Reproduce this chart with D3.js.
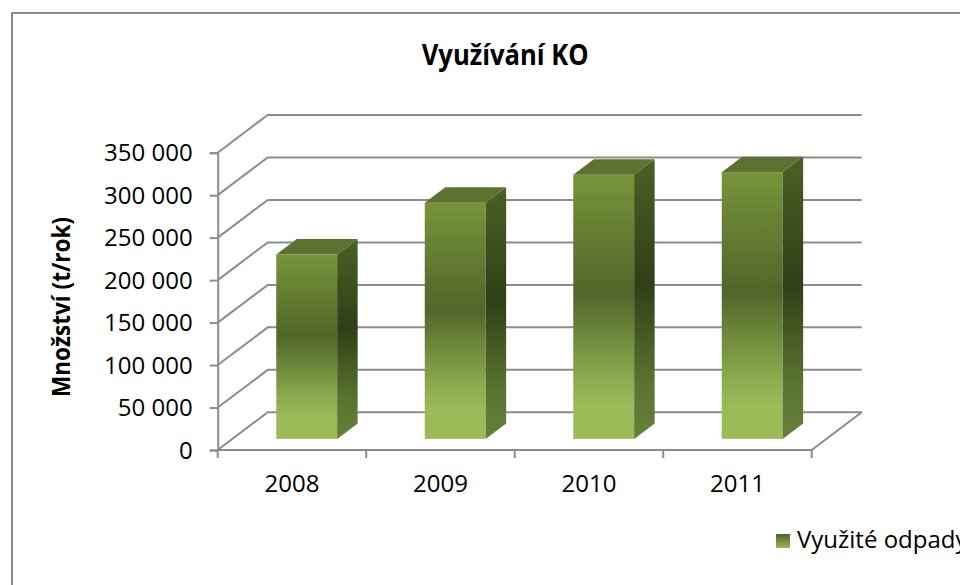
<!DOCTYPE html>
<html>
<head>
<meta charset="utf-8">
<script src="https://cdn.jsdelivr.net/npm/d3@7"></script>
<style>
  body { margin: 0; background: #fff; }
  text { font-family: 'Open Sans', sans-serif; fill: #000; }
</style>
</head>
<body>
<svg id="chart" width="960" height="585"></svg>
<script>
'use strict';

// data
var categories = ['2008', '2009', '2010', '2011'];
var values = [217000, 278000, 311000, 314000];
var yTicks = [0, 50000, 100000, 150000, 200000, 250000, 300000, 350000];
var seriesName = 'Využité odpady';
var chartTitle = 'Využívání KO';
var yTitle = 'Množství (t/rok)';

// plot geometry (front plane + depth vector of the 3D box)
var plotLeft = 217.7, plotRight = 811.7, plotBottom = 450, plotTop = 152.7;
var depth = { x: 50, y: -37.7 };
var barDepth = [0.295, 0.705];   // bar occupies this slice of the depth
var barWidth = 0.41;             // share of the band

var svg = d3.select('#chart');

var x = d3.scaleBand().domain(categories).range([plotLeft, plotRight]).padding(0);
var y = d3.scaleLinear().domain([0, 350000]).range([plotBottom, plotTop]);

var fmt = d3.formatLocale({ decimal: ',', thousands: '\u00a0', grouping: [3], currency: ['', ' Kč'] }).format(',');

// gradients
var defs = svg.append('defs');
function grad(id, stops) {
  var g = defs.append('linearGradient').attr('id', id)
    .attr('x1', 0).attr('y1', 0).attr('x2', 0).attr('y2', 1);
  stops.forEach(function(s) {
    g.append('stop').attr('offset', s[0]).attr('stop-color', s[1]);
  });
}
grad('front', [[0, '#77943b'], [0.45, '#516629'], [0.78, '#8cad4f'], [0.88, '#9bbb59'], [1, '#9bbb59']]);
grad('side', [[0, '#4b5f25'], [0.45, '#303f17'], [0.8, '#5a7330'], [1, '#667f3a']]);
grad('swatch', [[0, '#4f6228'], [1, '#9bbb59']]);

// outer frame
svg.append('rect')
  .attr('x', 12).attr('y', 13).attr('width', 1000).attr('height', 600)
  .attr('fill', 'none').attr('stroke', '#8a8a8a').attr('stroke-width', 2);

// title
svg.append('text')
  .attr('x', 421.7).attr('y', 65)
  .attr('textLength', 167).attr('lengthAdjust', 'spacingAndGlyphs')
  .style('font-size', '29px').style('font-weight', 'bold')
  .text(chartTitle);

// walls: side wall diagonals + back wall lines
var grid = svg.append('g').attr('stroke', '#8c8c8c').attr('stroke-width', 2).attr('fill', 'none');
yTicks.forEach(function(t) {
  var yy = y(t);
  grid.append('path').attr('d',
    'M' + plotLeft + ',' + yy +
    'L' + (plotLeft + depth.x) + ',' + (yy + depth.y) +
    'L' + (plotRight + depth.x) + ',' + (yy + depth.y));
});
// floor
grid.append('path').attr('d',
  'M' + plotLeft + ',' + plotBottom + 'L' + plotRight + ',' + plotBottom +
  'L' + (plotRight + depth.x) + ',' + (plotBottom + depth.y));

// y axis
var yAxis = svg.append('g')
  .attr('transform', 'translate(' + plotLeft + ',0)')
  .call(d3.axisLeft(y).tickValues(yTicks).tickSize(8).tickPadding(17).tickFormat(fmt));
yAxis.select('.domain').attr('stroke', '#8c8c8c').attr('stroke-width', 2);
yAxis.selectAll('.tick line').attr('stroke', '#8c8c8c').attr('stroke-width', 2);
yAxis.selectAll('.tick text')
  .style('font-size', '24px').attr('dy', '0.34em')
  .attr('fill', '#111');

// x axis: labels at centres, ticks at band edges
var xAxis = svg.append('g')
  .attr('transform', 'translate(0,' + plotBottom + ')')
  .call(d3.axisBottom(x).tickSize(0));
xAxis.select('.domain').remove();
xAxis.selectAll('.tick text')
  .attr('y', 42).attr('dy', 0)
  .style('font-size', '24px').attr('fill', '#111');
var edges = categories.map(function(c) { return x(c); }).concat([plotRight]);
svg.append('g').selectAll('line').data(edges).enter().append('line')
  .attr('x1', function(d) { return d; }).attr('x2', function(d) { return d; })
  .attr('y1', plotBottom).attr('y2', plotBottom + 8)
  .attr('stroke', '#8c8c8c').attr('stroke-width', 2);

// bars
var bars = svg.append('g').selectAll('g').data(values).enter().append('g');
var bw = x.bandwidth() * barWidth;
var fdx = depth.x * barDepth[0], fdy = depth.y * barDepth[0];
var bdx = depth.x * (barDepth[1] - barDepth[0]), bdy = depth.y * (barDepth[1] - barDepth[0]);
function xl(d, i) { return x(categories[i]) + x.bandwidth() / 2 - bw / 2 + fdx; }
function yt(d) { return y(d) + fdy; }
var yb = y(0) + fdy;

bars.append('rect')
  .attr('x', xl).attr('y', yt)
  .attr('width', bw).attr('height', function(d) { return yb - yt(d); })
  .attr('fill', 'url(#front)');
bars.append('path')
  .attr('d', function(d, i) {
    var a = xl(d, i), b = a + bw, t = yt(d);
    return 'M' + a + ',' + t + 'L' + b + ',' + t + 'L' + (b + bdx) + ',' + (t + bdy) +
      'L' + (a + bdx) + ',' + (t + bdy) + 'Z';
  })
  .attr('fill', '#5c7230');
bars.append('path')
  .attr('d', function(d, i) {
    var b = xl(d, i) + bw, t = yt(d);
    return 'M' + b + ',' + t + 'L' + (b + bdx) + ',' + (t + bdy) +
      'L' + (b + bdx) + ',' + (yb + bdy) + 'L' + b + ',' + yb + 'Z';
  })
  .attr('fill', 'url(#side)');

// y title
svg.append('text')
  .attr('transform', 'translate(70,397) rotate(-90)')
  .attr('textLength', 180).attr('lengthAdjust', 'spacingAndGlyphs')
  .style('font-size', '25px').style('font-weight', 'bold')
  .text(yTitle);

// legend
var legend = svg.append('g').attr('transform', 'translate(776,534)');
legend.append('rect').attr('width', 14).attr('height', 14).attr('fill', 'url(#swatch)');
legend.append('text').attr('x', 21).attr('y', 14)
  .style('font-size', '24px').attr('fill', '#111')
  .text(seriesName);
</script>
</body>
</html>
